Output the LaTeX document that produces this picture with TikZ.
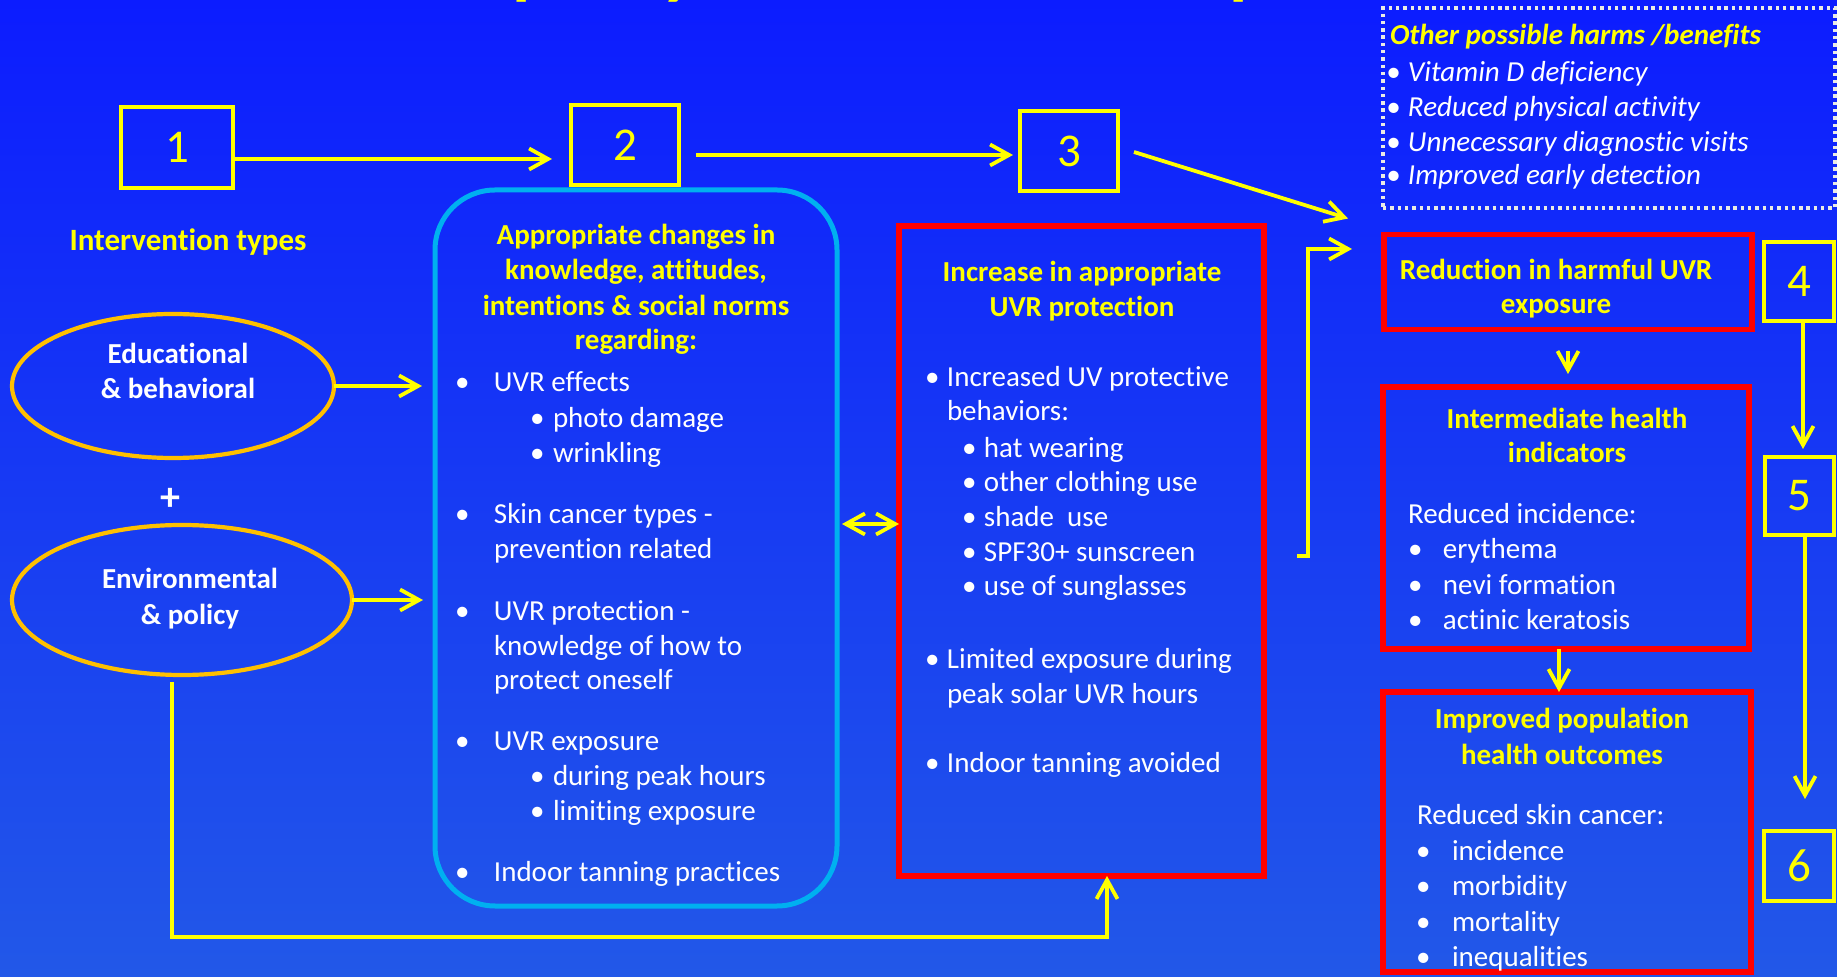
\documentclass[tikz,border=0pt]{standalone}
\usepackage{fontspec}
\setmainfont{Carlito}[Ligatures=NoCommon]
\usetikzlibrary{arrows.meta,shapes.geometric,calc}
\definecolor{bgtop}{RGB}{12,28,255}
\definecolor{bgbot}{RGB}{34,88,232}
\definecolor{ylw}{RGB}{255,255,0}
\definecolor{org}{RGB}{255,192,0}
\definecolor{cyn}{RGB}{0,176,240}
\definecolor{rd}{RGB}{255,0,0}
\definecolor{dotc}{RGB}{235,235,228}
\newcommand{\blt}[2]{\makebox[#1][l]{\textbullet}#2}
\begin{document}
\begin{tikzpicture}[x=0.5pt,y=-0.5pt,
  every node/.style={inner sep=0pt, outer sep=0pt},
  body/.style={text=white, font=\fontsize{14.5}{17.5}\selectfont, anchor=base west},
  head/.style={text=ylw, font=\bfseries\fontsize{14.5}{17.5}\selectfont, anchor=base},
  numbox/.style={draw=ylw, line width=2pt, text=ylw, font=\fontsize{23.5}{28}\selectfont},
  redbox/.style={draw=rd, line width=2.6pt},
  oval/.style={ellipse, draw=org, line width=2.1pt},
  arr/.style={draw=ylw, line width=1.9pt, -{Straight Barb[length=9.5pt,width=10.5pt]}},
  dbl/.style={draw=ylw, line width=1.9pt, {Straight Barb[length=9.5pt,width=10.5pt]}-{Straight Barb[length=9.5pt,width=10.5pt]}},
]
\useasboundingbox (0,0) rectangle (1837,977);
\shade[top color=bgtop, bottom color=bgbot] (0,0) rectangle (1837,977);

% title, cut off by the top edge as in the reference
\begin{scope}
\clip (0,0) rectangle (1837,977);
\node[text=ylw, font=\bfseries\fontsize{37.5}{40}\selectfont, anchor=base west] (title) at (-29,-9) {Environmental \& policy interventions to prevent skin cancer};
\end{scope}

% number boxes
\node[numbox, minimum width=56pt, minimum height=40.5pt] (b1) at (177,147.5) {1};
\node[numbox, minimum width=54pt, minimum height=40pt] (b2) at (625,145) {2};
\node[numbox, minimum width=49pt, minimum height=40pt] (b3) at (1069,151) {3};
\node[numbox, minimum width=35pt, minimum height=39.5pt] (b4) at (1799,281.5) {4};
\node[numbox, minimum width=34.5pt, minimum height=39pt] (b5) at (1799.5,496) {5};
\node[numbox, minimum width=35pt, minimum height=35pt] (b6) at (1799,866) {6};

% harms / benefits box
\node[draw=dotc, line width=1.7pt, dash pattern=on 1.7pt off 1.95pt, minimum width=226pt, minimum height=100pt] (harms) at (1609,108) {};
\node[head, anchor=base west, font=\bfseries\itshape\fontsize{14.5}{17.5}\selectfont] (h0) at (1390,45) {Other possible harms /benefits};
\foreach \yy/\txt [count=\i] in {82/Vitamin D deficiency, 117/Reduced physical activity, 152/Unnecessary diagnostic visits, 185/Improved early detection}
  \node[body, font=\itshape\fontsize{14.5}{17.5}\selectfont] (h\i) at (1386,\yy) {\blt{11pt}{\txt}};

% intervention types
\node[head, font=\bfseries\fontsize{15.5}{18}\selectfont] (itype) at (188,251) {Intervention types};
\node[oval, minimum width=161pt, minimum height=72pt] (edu) at (173,386) {};
\node[head, text=white] (edu1) at (178,364) {Educational};
\node[head, text=white] (edu2) at (178,399) {\& behavioral};
\node[text=white, font=\bfseries\fontsize{20}{22}\selectfont] (plus) at (170,499) {+};
\node[oval, minimum width=170pt, minimum height=75pt] (env) at (182,600) {};
\node[head, text=white] (env1) at (190,589) {Environmental};
\node[head, text=white] (env2) at (190,625) {\& policy};

% knowledge box
\node[draw=cyn, line width=2.5pt, rounded corners=30pt, minimum width=201pt, minimum height=358pt] (kb) at (636,548) {};
\foreach \yy/\txt [count=\i] in {245/Appropriate changes in, 280/{knowledge, attitudes,}, 316/intentions \& social norms, 350/regarding:}
  \node[head] (kh\i) at (636,\yy) {\txt};
\node[body] (k1) at (455,392) {\blt{19.5pt}{UVR effects}};
\node[body] (k2) at (530,428) {\blt{11.5pt}{photo damage}};
\node[body] (k3) at (530,463) {\blt{11.5pt}{wrinkling}};
\node[body] (k4) at (455,524) {\blt{19.5pt}{Skin cancer types -}};
\node[body] (k5) at (494,559) {prevention related};
\node[body] (k6) at (455,621) {\blt{19.5pt}{UVR protection -}};
\node[body] (k7) at (494,656) {knowledge of how to};
\node[body] (k8) at (494,690) {protect oneself};
\node[body] (k9) at (455,751) {\blt{19.5pt}{UVR exposure}};
\node[body] (k10) at (530,786) {\blt{11.5pt}{during peak hours}};
\node[body] (k11) at (530,821) {\blt{11.5pt}{limiting exposure}};
\node[body] (k12) at (455,882) {\blt{19.5pt}{Indoor tanning practices}};

% increase box
\node[redbox, minimum width=182.5pt, minimum height=325pt] (inc) at (1081.5,551) {};
\node[head] (ih1) at (1082,282) {Increase in appropriate};
\node[head] (ih2) at (1082,317) {UVR protection};
\node[body] (i1) at (925,387) {\blt{11pt}{Increased UV protective}};
\node[body] (i2) at (947,421) {behaviors:};
\node[body] (i3) at (962,458) {\blt{11pt}{hat wearing}};
\node[body] (i4) at (962,492) {\blt{11pt}{other clothing use}};
\node[body] (i5) at (962,527) {\blt{11pt}{shade\ \ use}};
\node[body] (i6) at (962,562) {\blt{11pt}{SPF30+ sunscreen}};
\node[body] (i7) at (962,596) {\blt{11pt}{use of sunglasses}};
\node[body] (i8) at (925,669) {\blt{11pt}{Limited exposure during}};
\node[body] (i9) at (947,704) {peak solar UVR hours};
\node[body] (i10) at (925,773) {\blt{11pt}{Indoor tanning avoided}};

% reduction box
\node[redbox, minimum width=184pt, minimum height=47.5pt] (red1) at (1568,282) {};
\node[head] (rh1) at (1556,280) {Reduction in harmful UVR};
\node[head] (rh2) at (1556,314) {exposure};

% intermediate box
\node[redbox, minimum width=183pt, minimum height=131pt] (inter) at (1566,518) {};
\node[head] (mh1) at (1567,429) {Intermediate health};
\node[head] (mh2) at (1567,463) {indicators};
\node[body] (m0) at (1408,524) {Reduced incidence:};
\foreach \yy/\txt [count=\i] in {559/erythema, 595/nevi formation, 630/actinic keratosis}
  \node[body] (m\i) at (1408,\yy) {\blt{17.5pt}{\txt}};

% improved box
\node[redbox, minimum width=184pt, minimum height=140pt] (impr) at (1567,832) {};
\node[head] (ph1) at (1562,729) {Improved population};
\node[head] (ph2) at (1562,765) {health outcomes};
\node[body] (p0) at (1417,825) {Reduced skin cancer:};
\foreach \yy/\txt [count=\i] in {861/incidence, 896/morbidity, 931/mortality, 966/inequalities}
  \node[body] (p\i) at (1416,\yy) {\blt{18pt}{\txt}};

% connectors
\draw[arr, shorten >=9.5pt] (b1.east |- 0,159) -- (b2.west |- 0,159);
\draw[arr, shorten <=8.5pt, shorten >=3.5pt] (b2.east |- 0,155) -- (b3.west |- 0,155);
\draw[arr] ([xshift=8pt]b3.east |- 0,152) -- ([xshift=-18pt,yshift=8pt]red1.north west);
\draw[arr] ([xshift=16.5pt]inc.east |- 0,556) -- ++(11,0) |- ([xshift=-16pt]red1.west |- 0,249);
\draw[arr, shorten >=6.5pt] (edu.east) -- (kb.west |- edu.east);
\draw[arr, shorten >=6pt] (env.east) -- (kb.west |- env.east);
\draw[arr, shorten <=3.5pt] (env.south -| 172,0) -- (172,937) -| (inc.south -| 1107,0);
\draw[dbl, shorten <=2.5pt] (kb.east |- 0,524) -- (inc.west |- 0,524);
\draw[arr] ([yshift=-11pt]red1.south) -- ([yshift=6.5pt]red1.south |- inter.north);
\draw[arr] (inter.south -| 1559,0) -- (impr.north -| 1559,0);
\draw[arr, shorten >=4pt] (b4.south -| 1803,0) -- (b5.north -| 1803,0);
\draw[arr, shorten >=16pt] (b5.south -| 1805,0) -- (b6.north -| 1805,0);
\end{tikzpicture}
\end{document}
